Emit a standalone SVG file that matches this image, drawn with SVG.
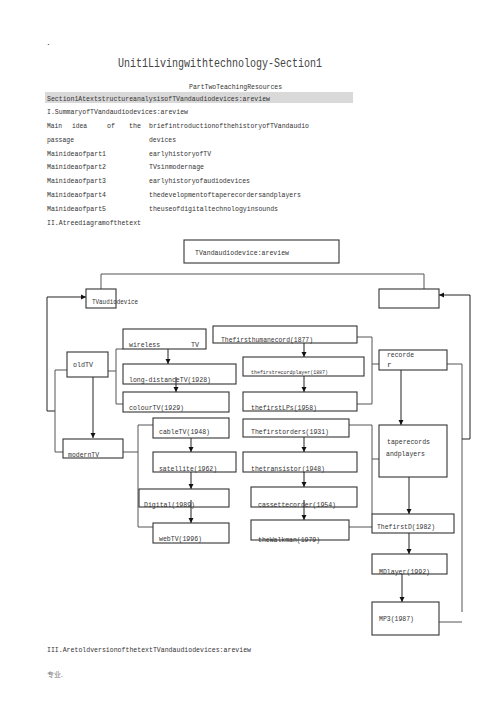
<svg xmlns="http://www.w3.org/2000/svg" width="500" height="707" viewBox="0 0 500 707">
<style>
.t{font-family:"Liberation Mono","DejaVu Sans Mono",monospace;font-size:8px;fill:#333}
.s{font-size:6px}
.h{font-size:12px;fill:#444}
.box{fill:none;stroke:#333;stroke-width:1.1}
.ln{fill:none;stroke:#555;stroke-width:1}
.ar{fill:none;stroke:#222;stroke-width:1;marker-end:url(#ah)}
</style>
<defs>
<marker id="ah" viewBox="0 0 10 10" refX="10" refY="5" markerWidth="5" markerHeight="6" markerUnits="userSpaceOnUse" orient="auto">
<path d="M0,0 L10,5 L0,10 z" fill="#111"/>
</marker>
</defs>
<rect width="500" height="707" fill="#fff"/>

<g id="header">
<text class="t" x="46" y="45" fill="#666">.</text>
<text class="t h" x="118" y="67" textLength="204" lengthAdjust="spacingAndGlyphs">Unit1Livingwithtechnology-Section1</text>
<text class="t" x="189" y="89" textLength="93" lengthAdjust="spacingAndGlyphs">PartTwoTeachingResources</text>
<rect x="45" y="92" width="308" height="11" fill="#d9d9d9"/>
<text class="t" x="47" y="101" textLength="223" lengthAdjust="spacingAndGlyphs">Section1AtextstructureanalysisofTVandaudiodevices:areview</text>
<text class="t" x="47" y="114" textLength="141" lengthAdjust="spacingAndGlyphs">I.SummaryofTVandaudiodevices:areview</text>
<text class="t" x="47" y="128" textLength="15" lengthAdjust="spacingAndGlyphs">Main</text>
<text class="t" x="72" y="128" textLength="15" lengthAdjust="spacingAndGlyphs">idea</text>
<text class="t" x="107" y="128" textLength="8" lengthAdjust="spacingAndGlyphs">of</text>
<text class="t" x="129" y="128" textLength="12" lengthAdjust="spacingAndGlyphs">the</text>
<text class="t" x="149" y="128" textLength="160" lengthAdjust="spacingAndGlyphs">briefintroductionofthehistoryofTVandaudio</text>
<text class="t" x="47" y="142" textLength="27" lengthAdjust="spacingAndGlyphs">passage</text>
<text class="t" x="149" y="142" textLength="27" lengthAdjust="spacingAndGlyphs">devices</text>
<text class="t" x="47" y="156" textLength="59" lengthAdjust="spacingAndGlyphs">Mainideaofpart1</text>
<text class="t" x="149" y="156" textLength="62" lengthAdjust="spacingAndGlyphs">earlyhistoryofTV</text>
<text class="t" x="47" y="169" textLength="59" lengthAdjust="spacingAndGlyphs">Mainideaofpart2</text>
<text class="t" x="149" y="169" textLength="55" lengthAdjust="spacingAndGlyphs">TVsinmodernage</text>
<text class="t" x="47" y="183" textLength="59" lengthAdjust="spacingAndGlyphs">Mainideaofpart3</text>
<text class="t" x="149" y="183" textLength="101" lengthAdjust="spacingAndGlyphs">earlyhistoryofaudiodevices</text>
<text class="t" x="47" y="197" textLength="59" lengthAdjust="spacingAndGlyphs">Mainideaofpart4</text>
<text class="t" x="149" y="197" textLength="152" lengthAdjust="spacingAndGlyphs">thedevelopmentoftaperecordersandplayers</text>
<text class="t" x="47" y="211" textLength="59" lengthAdjust="spacingAndGlyphs">Mainideaofpart5</text>
<text class="t" x="149" y="211" textLength="129" lengthAdjust="spacingAndGlyphs">theuseofdigitaltechnologyinsounds</text>
<text class="t" x="47" y="225" textLength="94" lengthAdjust="spacingAndGlyphs">II.Atreediagramofthetext</text>
</g>

<g id="connectors">
<polyline class="ln" points="101,289 101,274 424,274 424,289"/>
<polyline class="ar" points="55,411 47,411 47,297 86,297"/>
<polyline class="ln" points="67,370 55,370 55,452 63,452"/>
<line class="ar" x1="93" y1="377" x2="93" y2="438"/>
<line class="ln" x1="108" y1="371" x2="116" y2="371"/>
<polyline class="ln" points="123,349 116,349 116,404 123,404"/>
<line class="ar" x1="168" y1="349" x2="168" y2="364"/>
<line class="ar" x1="176" y1="377" x2="176" y2="392"/>
<line class="ln" x1="123" y1="452" x2="138" y2="452"/>
<polyline class="ln" points="153,425 138,425 138,527 153,527"/>
<line class="ar" x1="191" y1="438" x2="191" y2="452"/>
<line class="ar" x1="191" y1="472" x2="191" y2="489"/>
<line class="ar" x1="191" y1="500" x2="191" y2="523"/>
<line class="ar" x1="304" y1="343" x2="304" y2="357"/>
<line class="ar" x1="304" y1="376" x2="304" y2="392"/>
<polyline class="ln" points="357,337 372,337 372,404 357,404"/>
<line class="ln" x1="372" y1="364" x2="379" y2="364"/>
<line class="ar" x1="401" y1="370" x2="401" y2="425"/>
<line class="ar" x1="304" y1="437" x2="304" y2="452"/>
<line class="ar" x1="304" y1="472" x2="304" y2="487"/>
<line class="ar" x1="304" y1="500" x2="304" y2="520"/>
<polyline class="ln" points="349,425 372,425 372,514"/>
<line class="ln" x1="372" y1="459" x2="379" y2="459"/>
<line class="ln" x1="349" y1="527" x2="372" y2="527"/>
<line class="ar" x1="409" y1="477" x2="409" y2="514"/>
<line class="ar" x1="409" y1="533" x2="409" y2="554"/>
<line class="ar" x1="402" y1="574" x2="402" y2="602"/>
<polyline class="ln" points="447,364 462,364 462,612"/>
<line class="ln" x1="439" y1="622" x2="462" y2="622"/>
<polyline class="ar" points="462,439 470,439 470,295 439,295"/>
</g>

<g id="root">
<rect class="box" x="184" y="240" width="155" height="23"/>
<text class="t" x="195" y="255" textLength="94" lengthAdjust="spacingAndGlyphs">TVandaudiodevice:areview</text>
</g>
<g id="tvaudio">
<rect class="box" x="86" y="289" width="30" height="19"/>
<text class="t" x="92" y="304" textLength="46" lengthAdjust="spacingAndGlyphs">TVaudiodevice</text>
</g>
<g id="audio">
<rect class="box" x="379" y="289" width="60" height="19"/>
</g>
<g id="oldtv">
<rect class="box" x="67" y="352" width="41" height="25"/>
<text class="t" x="73" y="367" textLength="20" lengthAdjust="spacingAndGlyphs">oldTV</text>
</g>
<g id="moderntv">
<rect class="box" x="63" y="439" width="60" height="19"/>
<text class="t" x="68" y="457" textLength="31" lengthAdjust="spacingAndGlyphs">modernTV</text>
</g>
<g id="wireless">
<rect class="box" x="123" y="329" width="83" height="20"/>
<text class="t" x="129" y="347" textLength="31" lengthAdjust="spacingAndGlyphs">wireless</text>
<text class="t" x="191" y="347" textLength="8" lengthAdjust="spacingAndGlyphs">TV</text>
</g>
<g id="longdistance">
<rect class="box" x="123" y="364" width="113" height="20"/>
<text class="t" x="129" y="382" textLength="82" lengthAdjust="spacingAndGlyphs">long-distanceTV(1928)</text>
</g>
<g id="colour">
<rect class="box" x="123" y="392" width="106" height="20"/>
<text class="t" x="129" y="410" textLength="55" lengthAdjust="spacingAndGlyphs">colourTV(1929)</text>
</g>
<g id="cable">
<rect class="box" x="153" y="418" width="76" height="20"/>
<text class="t" x="159" y="434" textLength="51" lengthAdjust="spacingAndGlyphs">cableTV(1948)</text>
</g>
<g id="satellite">
<rect class="box" x="153" y="452" width="83" height="20"/>
<text class="t" x="159" y="471" textLength="58" lengthAdjust="spacingAndGlyphs">satellite(1962)</text>
</g>
<g id="digital">
<rect class="box" x="139" y="489" width="90" height="18"/>
<text class="t" x="144" y="507" textLength="51" lengthAdjust="spacingAndGlyphs">Digital(1989)</text>
</g>
<g id="webtv">
<rect class="box" x="153" y="523" width="76" height="20"/>
<text class="t" x="159" y="541" textLength="43" lengthAdjust="spacingAndGlyphs">webTV(1996)</text>
</g>
<g id="human">
<rect class="box" x="213" y="326" width="144" height="17"/>
<text class="t" x="221" y="342" textLength="92" lengthAdjust="spacingAndGlyphs">Thefirsthumanecord(1877)</text>
</g>
<g id="player">
<rect class="box" x="243" y="357" width="121" height="19"/>
<text class="t s" x="251" y="374" textLength="77" lengthAdjust="spacingAndGlyphs">thefirstrecordplayer(1887)</text>
</g>
<g id="lps">
<rect class="box" x="243" y="392" width="114" height="19"/>
<text class="t" x="251" y="410" textLength="66" lengthAdjust="spacingAndGlyphs">thefirstLPs(1958)</text>
</g>
<g id="orders">
<rect class="box" x="243" y="419" width="106" height="18"/>
<text class="t" x="251" y="434" textLength="78" lengthAdjust="spacingAndGlyphs">Thefirstorders(1931)</text>
</g>
<g id="transistor">
<rect class="box" x="243" y="452" width="114" height="20"/>
<text class="t" x="251" y="471" textLength="74" lengthAdjust="spacingAndGlyphs">thetransistor(1948)</text>
</g>
<g id="cassette">
<rect class="box" x="251" y="487" width="106" height="20"/>
<text class="t" x="258" y="507" textLength="78" lengthAdjust="spacingAndGlyphs">cassettecorder(1954)</text>
</g>
<g id="walkman">
<rect class="box" x="251" y="520" width="98" height="20"/>
<text class="t" x="258" y="542" textLength="62" lengthAdjust="spacingAndGlyphs">theWalkman(1979)</text>
</g>
<g id="recorder">
<rect class="box" x="379" y="350" width="68" height="20"/>
<text class="t" x="387" y="357" textLength="27" lengthAdjust="spacingAndGlyphs">recorde</text>
<text class="t" x="387" y="367">r</text>
</g>
<g id="tape">
<rect class="box" x="379" y="425" width="68" height="52"/>
<text class="t" x="387" y="444" textLength="43" lengthAdjust="spacingAndGlyphs">taperecords</text>
<text class="t" x="386" y="456" textLength="39" lengthAdjust="spacingAndGlyphs">andplayers</text>
</g>
<g id="firstd">
<rect class="box" x="372" y="514" width="82" height="19"/>
<text class="t" x="377" y="529" textLength="58" lengthAdjust="spacingAndGlyphs">ThefirstD(1982)</text>
</g>
<g id="md">
<rect class="box" x="372" y="554" width="75" height="20"/>
<text class="t" x="379" y="574" textLength="51" lengthAdjust="spacingAndGlyphs">MDlayer(1992)</text>
</g>
<g id="mp3">
<rect class="box" x="372" y="602" width="67" height="33"/>
<text class="t" x="379" y="621" textLength="35" lengthAdjust="spacingAndGlyphs">MP3(1987)</text>
</g>

<g id="footer">
<text class="t" x="47" y="652" textLength="204" lengthAdjust="spacingAndGlyphs">III.AretoldversionofthetextTVandaudiodevices:areview</text>
<text x="47" y="677" style="font-family:'Noto Sans CJK SC',sans-serif;font-size:7px;fill:#777">专业.</text>
</g>
</svg>
